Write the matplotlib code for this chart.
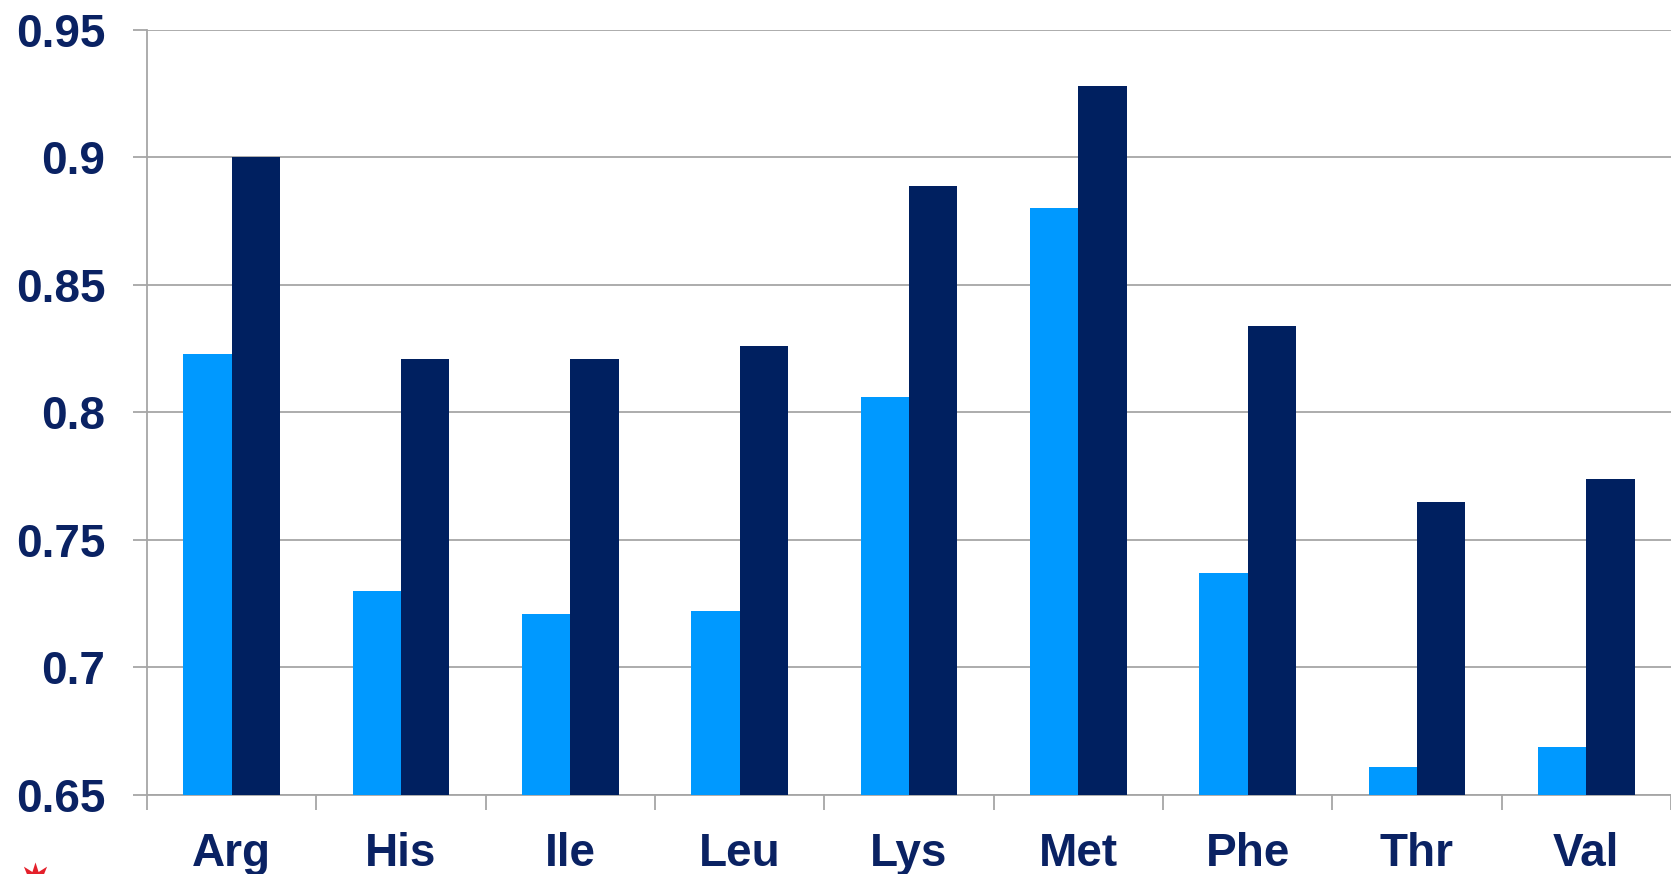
import matplotlib
matplotlib.use("Agg")
import matplotlib.pyplot as plt
from matplotlib.lines import Line2D
import numpy as np

amino_acids = ["Arg", "His", "Ile", "Leu", "Lys", "Met", "Phe", "Thr", "Val"]
series_light = [0.823, 0.730, 0.721, 0.722, 0.806, 0.880, 0.737, 0.661, 0.669]
series_dark = [0.900, 0.821, 0.821, 0.826, 0.889, 0.928, 0.834, 0.765, 0.774]
y_ticks = [0.65, 0.7, 0.75, 0.8, 0.85, 0.9, 0.95]
y_tick_labels = ["0.65", "0.7", "0.75", "0.8", "0.85", "0.9", "0.95"]

LIGHT = "#0099FF"
DARK = "#002060"
TEXT = "#0A2263"
GRID = "#A6A6A6"

plt.rcParams["font.family"] = ["Liberation Sans", "DejaVu Sans"]

fig = plt.figure(figsize=(16.71, 8.74), dpi=100)
ax = fig.add_axes([147 / 1671, 79 / 874, 1524 / 1671, 765 / 874])

x = np.arange(len(amino_acids))
w = 1 / 3.5
ax.bar(x - w / 2, [v - 0.65 for v in series_light], width=w, bottom=0.65,
       color=LIGHT, linewidth=0, zorder=3)
ax.bar(x + w / 2, [v - 0.65 for v in series_dark], width=w, bottom=0.65,
       color=DARK, linewidth=0, zorder=3)

ax.set_xlim(-0.5, len(amino_acids) - 0.5)
ax.set_ylim(0.65, 0.95)

ax.set_yticks(y_ticks)
ax.set_yticklabels(y_tick_labels)
ax.yaxis.grid(True, color=GRID, linewidth=1.3, zorder=0)
ax.set_axisbelow(True)

# category labels centred, tick marks on category boundaries
ax.set_xticks(x)
ax.set_xticklabels(amino_acids)
ax.set_xticks(np.arange(-0.5, len(amino_acids)), minor=True)
ax.tick_params(axis="x", which="major", length=0, pad=27)
ax.tick_params(axis="x", which="minor", length=11, width=1.3, color=GRID)
ax.tick_params(axis="y", length=10, width=1.3, color=GRID, pad=20)

for lab in ax.get_xticklabels() + ax.get_yticklabels():
    lab.set_fontsize(33)
    lab.set_fontweight("bold")
    lab.set_color(TEXT)

for side in ("top", "right"):
    ax.spines[side].set_visible(False)
for side in ("left", "bottom"):
    ax.spines[side].set_color(GRID)
    ax.spines[side].set_linewidth(1.3)

# small red logo mark peeking in at the lower-left corner
fig.add_artist(Line2D([35 / 1671], [-6 / 874], transform=fig.transFigure,
                      marker=(9, 1, 0), markersize=26, color="#E4202B",
                      markeredgewidth=0, linestyle="none"))

fig.savefig("out.png", dpi=100)
